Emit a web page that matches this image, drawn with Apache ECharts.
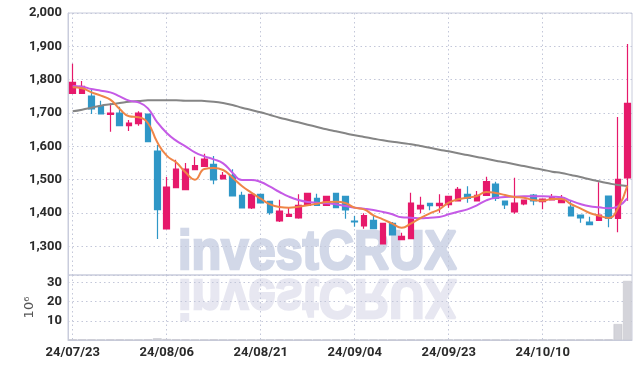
<!DOCTYPE html>
<html><head><meta charset="utf-8">
<script src="https://cdn.jsdelivr.net/npm/echarts@6/dist/echarts.min.js"></script>
<style>html,body{margin:0;padding:0;background:#fff}#c{width:642px;height:369px}</style>
</head><body><div id="c"></div>
<script>
const dates = ['24/07/23','24/07/24','24/07/25','24/07/26','24/07/29','24/07/30','24/07/31','24/08/01','24/08/02','24/08/05',
'24/08/06','24/08/07','24/08/08','24/08/09','24/08/12','24/08/13','24/08/14','24/08/16','24/08/19','24/08/20',
'24/08/21','24/08/22','24/08/23','24/08/26','24/08/27','24/08/28','24/08/29','24/08/30','24/09/02','24/09/03',
'24/09/04','24/09/05','24/09/06','24/09/09','24/09/10','24/09/11','24/09/12','24/09/13','24/09/19','24/09/20',
'24/09/23','24/09/24','24/09/25','24/09/26','24/09/27','24/09/30','24/10/02','24/10/04','24/10/07','24/10/08',
'24/10/10','24/10/11','24/10/14','24/10/15','24/10/16','24/10/17','24/10/18','24/10/21','24/10/22','24/10/23'];
// open, close, low, high
const opens  = [1759,1759,1751,1721,1696,1700,1662,1668,1697,1586,1352,1476,1470,1530,1540,1546,1502,1513,1453,1415,
                1456,1435,1376,1390,1385,1423,1444,1423,1459,1450,1376,1361,1378,1307,1369,1320,1323,1412,1429,1422,
                1425,1436,1456,1436,1453,1487,1436,1403,1427,1454,1434,1439,1431,1418,1394,1373,1378,1451,1384,1505];
const closes = [1792,1780,1712,1697,1700,1662,1670,1700,1614,1410,1478,1532,1532,1542,1562,1499,1513,1451,1415,1456,
                1430,1401,1406,1396,1423,1459,1423,1450,1416,1409,1373,1392,1353,1369,1334,1330,1430,1423,1422,1429,
                1450,1471,1444,1453,1494,1444,1424,1430,1439,1436,1442,1448,1442,1391,1385,1365,1394,1384,1501,1729];
const lows   = [1759,1759,1697,1697,1644,1662,1646,1662,1614,1322,1352,1476,1470,1530,1540,1486,1502,1451,1415,1412,
                1430,1395,1373,1390,1383,1423,1423,1423,1416,1383,1359,1353,1353,1307,1334,1320,1323,1399,1408,1401,
                1416,1436,1431,1436,1453,1436,1412,1398,1423,1423,1411,1439,1431,1391,1371,1365,1378,1357,1342,1437];
const highs  = [1848,1796,1769,1737,1729,1719,1679,1705,1697,1604,1508,1560,1550,1569,1578,1571,1523,1531,1464,1456,
                1456,1435,1440,1416,1456,1461,1458,1450,1459,1450,1391,1399,1391,1369,1373,1341,1461,1449,1429,1456,
                1450,1478,1480,1466,1509,1494,1436,1506,1439,1457,1442,1457,1454,1436,1394,1389,1492,1451,1688,1907];
const ma5  = [1777,1774,1762,1752,1740,1712,1690,1687,1670,1612,1572,1552,1522,1500,1532,1535,1529,1506,1481,1461,
              1443,1426,1418,1416,1419,1423,1428,1433,1434,1430,1416,1411,1393,1381,1368,1356,1369,1385,1399,1411,
              1431,1441,1446,1451,1463,1460,1454,1448,1446,1439,1437,1442,1442,1427,1414,1400,1392,1385,1414,1482];
const ma20 = [1781,1779,1772,1767,1762,1750,1737,1732,1714,1672,1640,1617,1600,1582,1570,1561,1549,1521,1499,1499,
              1493,1479,1463,1449,1439,1433,1431,1429,1426,1421,1416,1413,1409,1403,1396,1387,1386,1384,1386,1388,
              1396,1404,1411,1423,1438,1446,1448,1449,1450,1450,1450,1449,1447,1437,1427,1420,1417,1414,1420,1444];
const ma60 = [1705,1710,1716,1722,1726,1730,1734,1736,1738,1738,1738,1738,1737,1737,1736,1734,1730,1724,1716,1709,
              1702,1694,1686,1679,1672,1665,1658,1651,1645,1639,1633,1628,1623,1618,1614,1610,1606,1601,1596,1590,
              1585,1579,1574,1568,1563,1557,1552,1546,1541,1535,1530,1524,1520,1514,1508,1501,1495,1489,1484,1481];
const volumes = [0.3,0.3,0.3,0.2,0.3,0.3,0.2,0.2,0.3,0.9,0.5,0.3,0.3,0.2,0.2,0.3,0.2,0.2,0.2,0.2,
                 0.2,0.2,0.3,0.2,0.2,0.2,0.2,0.2,0.2,0.2,0.2,0.2,0.2,0.2,0.2,0.2,0.3,0.2,0.2,0.2,
                 0.2,0.2,0.2,0.2,0.3,0.2,0.2,0.2,0.2,0.2,0.2,0.2,0.2,0.2,0.2,0.2,0.3,0.3,8.3,30.7];
const priceTicks = [1300,1400,1500,1600,1700,1800,1900,2000];
const volumeTicks = [10,20,30];

const candles = opens.map((o,i)=>[o, closes[i], lows[i], highs[i]]);
const UP = '#e6196b', DOWN = '#2f97c7';
const gridLine = {show:true, lineStyle:{color:'#c3c7d9', type:[1.5,3], width:1}};
const labelFont = {color:'#2a2a2a', fontFamily:'Roboto', fontWeight:'bold', fontSize:13};

const chart = echarts.init(document.getElementById('c'), null, {renderer:'canvas'});
chart.setOption({
  animation:false,
  backgroundColor:'#fff',
  grid:[
    {left:68, right:10, top:13, height:262, show:true, borderColor:'#c9ccdc', borderWidth:1},
    {left:68, right:10, top:275, height:65, show:true, borderColor:'#c9ccdc', borderWidth:1}
  ],
  xAxis:[
    {type:'category', gridIndex:0, data:dates, boundaryGap:true,
     axisLine:{show:false}, axisTick:{show:false}, axisLabel:{show:false},
     splitLine:Object.assign({interval:9, alignWithLabel:true}, gridLine)},
    {type:'category', gridIndex:1, data:dates, boundaryGap:true,
     axisLine:{show:true, lineStyle:{color:'#c9ccdc'}}, axisTick:{show:false},
     axisLabel:Object.assign({interval:9, margin:6}, labelFont),
     splitLine:Object.assign({interval:9, alignWithLabel:true}, gridLine)}
  ],
  yAxis:[
    {type:'value', gridIndex:0, min:1214, max:2000, splitNumber:8,
     axisLine:{show:true, lineStyle:{color:'#c9ccdc'}}, axisTick:{show:false},
     axisLabel:Object.assign({margin:6, padding:[5,0,0,0], formatter:v=>priceTicks.includes(v)?v.toLocaleString('en-US'):''}, labelFont),
     splitLine:gridLine},
    {type:'value', gridIndex:1, min:0, max:33.8, splitNumber:3,
     axisLine:{show:true, lineStyle:{color:'#c9ccdc'}}, axisTick:{show:false},
     axisLabel:Object.assign({margin:6, padding:[5,0,0,0], formatter:v=>volumeTicks.includes(v)?String(v):''}, labelFont),
     splitLine:gridLine,
     name:'10⁶', nameLocation:'middle', nameRotate:90, nameGap:30,
     nameTextStyle:{color:'#555', fontFamily:'DejaVu Sans', fontSize:13}}
  ],
  graphic:[
    {type:'text', x:178, y:274.5, scaleX:0.87, z:-1, silent:true,
     style:{text:'investCRUX', x:0, y:-48.5, verticalAlign:'top', font:'bold 56px "Liberation Sans"', fill:'#d2d8e8', stroke:'#d2d8e8', lineWidth:2.5}},
    {type:'text', x:178, y:274.5, scaleX:0.87, scaleY:-1, z:-1, silent:true,
     style:{text:'investCRUX', x:0, y:-48.5, verticalAlign:'top', font:'bold 56px "Liberation Sans"', fill:'#e7e7f1', stroke:'#e7e7f1', lineWidth:2.5}}
  ],
  series:[
    {type:'candlestick', xAxisIndex:0, yAxisIndex:0, data:candles, barWidth:6,
     itemStyle:{color:UP, color0:DOWN, borderColor:UP, borderColor0:DOWN, borderWidth:1.2}},
    {type:'line', xAxisIndex:0, yAxisIndex:0, data:ma60, smooth:true, showSymbol:false,
     lineStyle:{color:'#858585', width:2}},
    {type:'line', xAxisIndex:0, yAxisIndex:0, data:ma20, smooth:true, showSymbol:false,
     lineStyle:{color:'#c55ae6', width:2}},
    {type:'line', xAxisIndex:0, yAxisIndex:0, data:ma5, smooth:true, showSymbol:false,
     lineStyle:{color:'#ef8547', width:2}},
    {type:'bar', xAxisIndex:1, yAxisIndex:1, data:volumes, barWidth:'92%',
     itemStyle:{color:'#d4d4da', borderColor:'#c2c2ca', borderWidth:0.5}}
  ]
});
</script></body></html>
